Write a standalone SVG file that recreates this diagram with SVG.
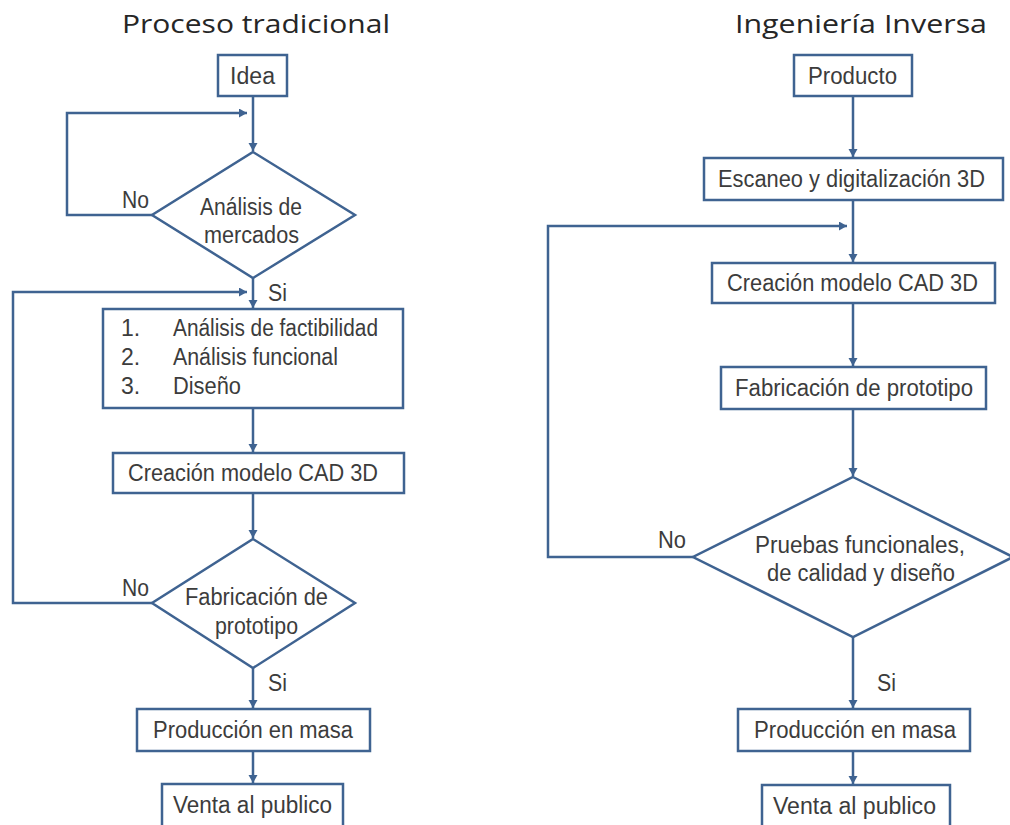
<svg xmlns="http://www.w3.org/2000/svg" width="1010" height="825" viewBox="0 0 1010 825">
  <style>
    .box { fill: #ffffff; stroke: #3f6391; stroke-width: 2.5; }
    .edge { fill: none; stroke: #3f6391; stroke-width: 2.5; }
    .t { font-family: "Liberation Sans", Arial, sans-serif; font-size: 23px; fill: #3c3c3c; }
    .title { font-family: "Open Sans", "Liberation Sans", sans-serif; font-size: 26px; fill: #262626; }
  </style>
  <defs>
    <marker id="arrow" markerUnits="userSpaceOnUse" markerWidth="10" markerHeight="10" refX="8" refY="4.5" orient="auto">
      <path d="M0,0 L8,4.5 L0,9 Z" fill="#3f6391"/>
    </marker>
  </defs>
  <rect width="1010" height="825" fill="#ffffff"/>

  <!-- Column headings -->
  <text class="title" x="122" y="33" textLength="268" lengthAdjust="spacingAndGlyphs">Proceso tradicional</text>
  <text class="title" x="735" y="33" textLength="252" lengthAdjust="spacingAndGlyphs">Ingeniería  Inversa</text>

  <!-- Connectors -->
  <g id="connectors">
    <!-- traditional process -->
    <path class="edge" d="M253,96 V151" marker-end="url(#arrow)"/>
    <path class="edge" d="M152,215 H67 V113 H247" marker-end="url(#arrow)"/>
    <path class="edge" d="M253,278 V308" marker-end="url(#arrow)"/>
    <path class="edge" d="M152,603 H13 V292 H247" marker-end="url(#arrow)"/>
    <path class="edge" d="M253,408 V452" marker-end="url(#arrow)"/>
    <path class="edge" d="M253,493 V538" marker-end="url(#arrow)"/>
    <path class="edge" d="M253,668 V708" marker-end="url(#arrow)"/>
    <path class="edge" d="M253,751 V783" marker-end="url(#arrow)"/>
    <!-- reverse engineering -->
    <path class="edge" d="M853,96 V157" marker-end="url(#arrow)"/>
    <path class="edge" d="M853,200 V262" marker-end="url(#arrow)"/>
    <path class="edge" d="M693,557 H548 V226 H847" marker-end="url(#arrow)"/>
    <path class="edge" d="M853,303 V366" marker-end="url(#arrow)"/>
    <path class="edge" d="M853,409 V476" marker-end="url(#arrow)"/>
    <path class="edge" d="M853,637 V708" marker-end="url(#arrow)"/>
    <path class="edge" d="M853,751 V784" marker-end="url(#arrow)"/>
  </g>

  <!-- Edge labels -->
  <g id="edge-labels">
    <text class="t" x="122" y="208" textLength="27" lengthAdjust="spacingAndGlyphs">No</text>
    <text class="t" x="268" y="301" textLength="19" lengthAdjust="spacingAndGlyphs">Si</text>
    <text class="t" x="122" y="596" textLength="27" lengthAdjust="spacingAndGlyphs">No</text>
    <text class="t" x="268" y="691" textLength="19" lengthAdjust="spacingAndGlyphs">Si</text>
    <text class="t" x="658" y="548" textLength="28" lengthAdjust="spacingAndGlyphs">No</text>
    <text class="t" x="877" y="691" textLength="19" lengthAdjust="spacingAndGlyphs">Si</text>
  </g>

  <!-- Traditional process nodes -->
  <g id="idea">
    <rect class="box" x="218" y="55" width="69" height="41"/>
    <text class="t" x="230" y="84" textLength="45" lengthAdjust="spacingAndGlyphs">Idea</text>
  </g>
  <g id="analisis-mercados">
    <polygon class="box" points="253,152 355,215 253,278 152,215"/>
    <text class="t" x="200" y="215" textLength="102" lengthAdjust="spacingAndGlyphs">Análisis de</text>
    <text class="t" x="204" y="243" textLength="95" lengthAdjust="spacingAndGlyphs">mercados</text>
  </g>
  <g id="analisis-diseno">
    <rect class="box" x="103" y="309" width="300" height="99"/>
    <text class="t" x="121" y="336">1.</text>
    <text class="t" x="173" y="336" textLength="205" lengthAdjust="spacingAndGlyphs">Análisis de factibilidad</text>
    <text class="t" x="121" y="365">2.</text>
    <text class="t" x="173" y="365" textLength="165" lengthAdjust="spacingAndGlyphs">Análisis funcional</text>
    <text class="t" x="121" y="394">3.</text>
    <text class="t" x="173" y="394" textLength="68" lengthAdjust="spacingAndGlyphs">Diseño</text>
  </g>
  <g id="cad-tradicional">
    <rect class="box" x="113" y="453" width="291" height="40"/>
    <text class="t" x="128" y="481" textLength="250" lengthAdjust="spacingAndGlyphs">Creación modelo CAD 3D</text>
  </g>
  <g id="prototipo-tradicional">
    <polygon class="box" points="253,539 355,603 253,668 152,603"/>
    <text class="t" x="185" y="605" textLength="143" lengthAdjust="spacingAndGlyphs">Fabricación de</text>
    <text class="t" x="215" y="634" textLength="83" lengthAdjust="spacingAndGlyphs">prototipo</text>
  </g>
  <g id="produccion-tradicional">
    <rect class="box" x="137" y="709" width="233" height="42"/>
    <text class="t" x="153" y="738" textLength="200" lengthAdjust="spacingAndGlyphs">Producción en masa</text>
  </g>
  <g id="venta-tradicional">
    <rect class="box" x="162" y="784" width="181" height="45"/>
    <text class="t" x="173" y="813" textLength="159" lengthAdjust="spacingAndGlyphs">Venta al publico</text>
  </g>

  <!-- Reverse engineering nodes -->
  <g id="producto">
    <rect class="box" x="794" y="55" width="118" height="41"/>
    <text class="t" x="808" y="84" textLength="89" lengthAdjust="spacingAndGlyphs">Producto</text>
  </g>
  <g id="escaneo">
    <rect class="box" x="704" y="158" width="299" height="42"/>
    <text class="t" x="718" y="187" textLength="267" lengthAdjust="spacingAndGlyphs">Escaneo y digitalización 3D</text>
  </g>
  <g id="cad-inversa">
    <rect class="box" x="712" y="263" width="283" height="40"/>
    <text class="t" x="727" y="291" textLength="251" lengthAdjust="spacingAndGlyphs">Creación modelo CAD 3D</text>
  </g>
  <g id="prototipo-inversa">
    <rect class="box" x="721" y="367" width="265" height="42"/>
    <text class="t" x="735" y="396" textLength="238" lengthAdjust="spacingAndGlyphs">Fabricación de prototipo</text>
  </g>
  <g id="pruebas">
    <polygon class="box" points="853,477 1013,557 853,637 693,557"/>
    <text class="t" x="755" y="553" textLength="210" lengthAdjust="spacingAndGlyphs">Pruebas funcionales,</text>
    <text class="t" x="767" y="581" textLength="188" lengthAdjust="spacingAndGlyphs">de calidad y diseño</text>
  </g>
  <g id="produccion-inversa">
    <rect class="box" x="738" y="709" width="232" height="42"/>
    <text class="t" x="754" y="738" textLength="202" lengthAdjust="spacingAndGlyphs">Producción en masa</text>
  </g>
  <g id="venta-inversa">
    <rect class="box" x="762" y="785" width="188" height="44"/>
    <text class="t" x="773" y="814" textLength="163" lengthAdjust="spacingAndGlyphs">Venta al publico</text>
  </g>
</svg>
